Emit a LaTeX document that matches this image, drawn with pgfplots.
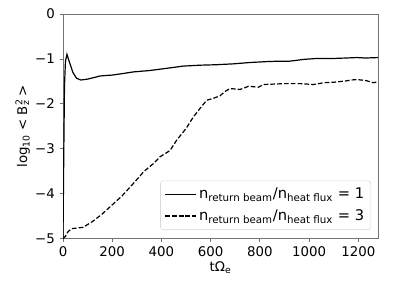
\documentclass[border=0pt]{standalone}
\usepackage{fontspec}
\setmainfont{DejaVu Sans}
\usepackage{pgfplots}
\pgfplotsset{compat=1.18}
\begin{document}
\fontsize{10}{12}\selectfont
\begin{tikzpicture}[x=0.75pt,y=0.75pt]
\begin{axis}[
  name=ax,
  scale only axis,
  width=236.25pt, height=168.4pt,
  xmin=0, xmax=1280, ymin=-5, ymax=0,
  xtick={0,200,400,600,800,1000,1200},
  xticklabels={0,200,400,600,800,1000,1200},
  ytick={-5,-4,-3,-2,-1,0},
  yticklabels={−5,−4,−3,−2,−1,0},
  /pgf/number format/assume math mode=true,
  ticklabel style={font=\fontsize{10}{12}\selectfont},
  axis line style={draw=gray!90!black, line width=0.6pt},
  tick style={draw=gray!90!black, line width=0.6pt},
  tick align=outside, tick pos=lower,
  major tick length=2.6pt,
  xlabel={tΩ\textsubscript{e}},
  ylabel={log\textsubscript{10} < B\rlap{\textsuperscript{2}}\textsubscript{z} >},
  label style={font=\fontsize{10}{12}\selectfont},
  xlabel style={yshift=3pt},
  ylabel style={yshift=-3pt},
  legend style={at={(0.978,0.038)}, anchor=south east, draw=gray!30, rounded corners=2pt,
    fill=white, fill opacity=0.8, text opacity=1, font=\fontsize{11}{13}\selectfont,
    row sep=2.5pt, inner xsep=3pt, inner ysep=3.5pt},
  legend cell align=left,
  legend image post style={xscale=1.35},
]
\addplot[black, line width=0.9pt] coordinates {
(0,-5) (3,-3.2) (6,-1.6) (10,-1.05) (16,-0.9) (25,-1.05) (40,-1.3) (55,-1.43) (73,-1.47)
(100,-1.45) (130,-1.41) (150,-1.38) (200,-1.36) (250,-1.32) (285,-1.29) (350,-1.26) (421,-1.21)
(489,-1.16) (557,-1.14) (620,-1.13) (692,-1.11) (760,-1.08) (828,-1.06) (880,-1.05) (922,-1.05)
(980,-1.01) (1031,-0.99) (1100,-0.99) (1150,-0.98) (1194,-0.97) (1230,-0.98) (1280,-0.97)
};
\addlegendentry{n\textsubscript{return beam}/n\textsubscript{heat flux} = 1}
\addplot[black, line width=0.9pt, dash pattern=on 3.5pt off 1.6pt] coordinates {
(0,-5) (10,-4.95) (20,-4.85) (35,-4.78) (82,-4.75) (120,-4.62) (160,-4.45) (198,-4.26)
(240,-4.05) (285,-3.78) (330,-3.5) (370,-3.32) (394,-3.18) (435,-3.04) (462,-2.81)
(500,-2.55) (530,-2.29) (560,-2.08) (584,-1.92) (610,-1.88) (638,-1.82) (660,-1.72)
(679,-1.66) (700,-1.67) (719,-1.68) (740,-1.64) (753,-1.61) (775,-1.62) (794,-1.63)
(814,-1.57) (860,-1.56) (900,-1.55) (963,-1.55) (1018,-1.57) (1060,-1.53) (1100,-1.52)
(1150,-1.49) (1170,-1.47) (1194,-1.46) (1230,-1.48) (1260,-1.53) (1280,-1.51)
};
\addlegendentry{n\textsubscript{return beam}/n\textsubscript{heat flux} = 3}
\end{axis}
\path[use as bounding box] ([shift={(-63,-41.5)}]ax.south west) rectangle ([shift={(42,14)}]ax.north east);
\end{tikzpicture}
\end{document}
